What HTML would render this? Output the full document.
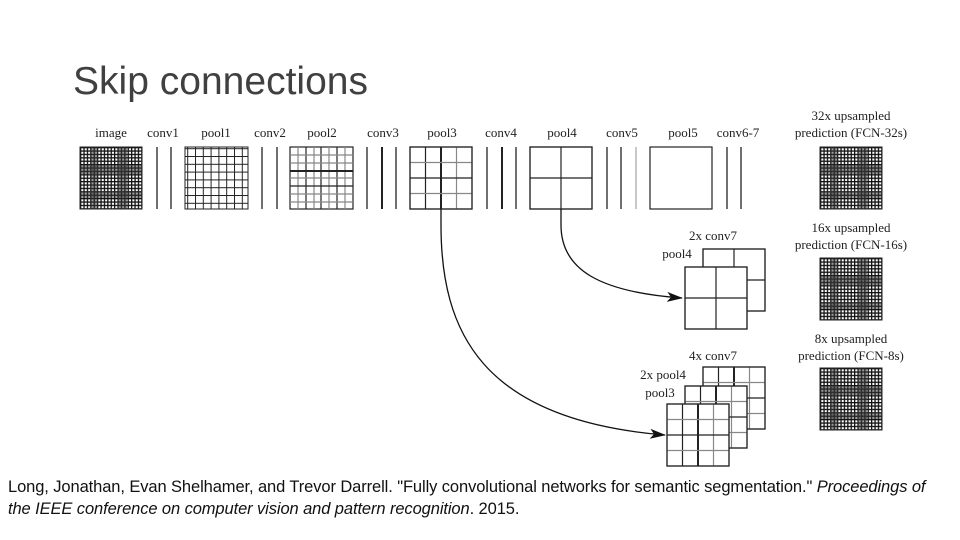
<!DOCTYPE html>
<html><head><meta charset="utf-8"><style>
body{margin:0;width:960px;height:540px;background:#fff;overflow:hidden;font-family:"Liberation Sans",sans-serif}
svg{position:absolute;left:0;top:0}
.t{font-family:"Liberation Serif",serif;font-size:13px;fill:#222;text-anchor:middle}
</style></head><body>
<svg width="960" height="540" viewBox="0 0 960 540">
<defs>
<pattern id="dense" width="3.4" height="3.4" patternUnits="userSpaceOnUse">
<rect width="3.4" height="3.4" fill="#fff"/>
<rect x="0" y="0" width="1.3" height="3.4" fill="#111"/>
<rect x="0" y="0" width="3.4" height="1.3" fill="#111"/>
</pattern>
<pattern id="med" width="7.8" height="7.8" patternUnits="userSpaceOnUse">
<rect width="7.8" height="7.8" fill="#fff"/>
<rect x="0" y="0" width="1" height="7.8" fill="#222"/>
<rect x="0" y="0" width="7.8" height="1" fill="#222"/>
</pattern>
<marker id="ah" markerWidth="16" markerHeight="10" refX="15" refY="5" orient="auto" markerUnits="userSpaceOnUse">
<path d="M0,0 L16,5 L0,10 L4,5 z" fill="#111"/>
</marker>
<g id="densebox">
<rect width="62" height="62" fill="url(#dense)"/>
<rect x="10" y="0" width="8" height="62" fill="#333" opacity=".5"/>
<rect x="38" y="0" width="9" height="62" fill="#333" opacity=".5"/>
<rect x="0" y="18" width="62" height="9" fill="#333" opacity=".5"/>
<rect x="0" y="44" width="62" height="7" fill="#333" opacity=".45"/>
<rect width="62" height="62" fill="none" stroke="#222" stroke-width="1"/>
</g>
<g id="grid4" stroke="#222" fill="none" stroke-width="1.2">
<rect width="62" height="62" fill="#fff"/>
<line x1="15.5" y1="0" x2="15.5" y2="62"/><line x1="31" y1="0" x2="31" y2="62" stroke-width="2"/><line x1="46.5" y1="0" x2="46.5" y2="62" stroke="#888"/>
<line x1="0" y1="15.5" x2="62" y2="15.5" stroke="#888"/><line x1="0" y1="31" x2="62" y2="31"/><line x1="0" y1="46.5" x2="62" y2="46.5" stroke="#888"/>
<rect width="62" height="62"/>
</g>
<g id="grid2" stroke="#222" fill="none" stroke-width="1.2">
<rect width="62" height="62" fill="#fff"/>
<line x1="31" y1="0" x2="31" y2="62"/><line x1="0" y1="31" x2="62" y2="31"/>
<rect width="62" height="62"/>
</g>
</defs>

<text x="73" y="94" font-size="39" fill="#404040" textLength="295" lengthAdjust="spacingAndGlyphs" style="font-family:'Liberation Sans',sans-serif;font-weight:300">Skip connections</text>

<g class="t">
<text x="111" y="137">image</text><text x="163" y="137">conv1</text><text x="216" y="137">pool1</text>
<text x="270" y="137">conv2</text><text x="322" y="137">pool2</text><text x="383" y="137">conv3</text>
<text x="442" y="137">pool3</text><text x="501" y="137">conv4</text><text x="562" y="137">pool4</text>
<text x="622" y="137">conv5</text><text x="683" y="137">pool5</text><text x="738" y="137">conv6-7</text>
<text x="851" y="120">32x upsampled</text><text x="851" y="137">prediction (FCN-32s)</text>
<text x="851" y="232">16x upsampled</text><text x="851" y="249">prediction (FCN-16s)</text>
<text x="851" y="343">8x upsampled</text><text x="851" y="360">prediction (FCN-8s)</text>
<text x="713" y="240">2x conv7</text><text x="677" y="258">pool4</text>
<text x="713" y="360">4x conv7</text><text x="663" y="379">2x pool4</text><text x="660" y="397">pool3</text>
</g>

<use href="#densebox" x="80" y="147"/>
<g stroke="#222" stroke-width="1.3">
<line x1="157" y1="147" x2="157" y2="209"/><line x1="171" y1="147" x2="171" y2="209"/>
<line x1="262" y1="147" x2="262" y2="209"/><line x1="277" y1="147" x2="277" y2="209"/>
<line x1="367" y1="147" x2="367" y2="209"/><line x1="382" y1="147" x2="382" y2="209" stroke-width="2"/><line x1="396" y1="147" x2="396" y2="209"/>
<line x1="487" y1="147" x2="487" y2="209"/><line x1="502" y1="147" x2="502" y2="209" stroke-width="2"/><line x1="516" y1="147" x2="516" y2="209"/>
<line x1="607" y1="147" x2="607" y2="209"/><line x1="621" y1="147" x2="621" y2="209"/><line x1="636" y1="147" x2="636" y2="209" stroke="#aaa"/>
<line x1="727" y1="147" x2="727" y2="209"/><line x1="741" y1="147" x2="741" y2="209"/>
</g>
<rect x="185" y="147" width="63" height="62" fill="url(#med)" stroke="#222"/>
<g transform="translate(290,147)" stroke="#222" fill="none" stroke-width="1.2">
<rect width="63" height="62"/>
<line x1="16" y1="0" x2="16" y2="62"/><line x1="24" y1="0" x2="24" y2="62" stroke="#888"/><line x1="31" y1="0" x2="31" y2="62"/><line x1="39" y1="0" x2="39" y2="62" stroke="#888"/><line x1="47" y1="0" x2="47" y2="62"/><line x1="8" y1="0" x2="8" y2="62" stroke="#888"/><line x1="55" y1="0" x2="55" y2="62" stroke="#888"/>
<line x1="0" y1="8" x2="63" y2="8" stroke="#888"/><line x1="0" y1="16" x2="63" y2="16" stroke="#888"/><line x1="0" y1="24" x2="63" y2="24" stroke-width="2"/><line x1="0" y1="31" x2="63" y2="31" stroke="#888"/><line x1="0" y1="39" x2="63" y2="39"/><line x1="0" y1="47" x2="63" y2="47" stroke="#888"/><line x1="0" y1="55" x2="63" y2="55" stroke="#888"/>
</g>
<use href="#grid4" x="410" y="147"/>
<use href="#grid2" x="530" y="147"/>
<rect x="650" y="147" width="62" height="62" fill="#fff" stroke="#222" stroke-width="1.2"/>
<use href="#densebox" x="820" y="147"/>
<use href="#densebox" x="820" y="258"/>
<use href="#densebox" x="820" y="368"/>

<use href="#grid2" x="703" y="249"/>
<use href="#grid2" x="685" y="267"/>
<use href="#grid4" x="703" y="367"/>
<use href="#grid4" x="685" y="386"/>
<use href="#grid4" x="667" y="404"/>

<g fill="none" stroke="#111" stroke-width="1.3">
<path d="M561,209 L561,225 C561,270 600,292 682,298" marker-end="url(#ah)"/>
<path d="M441,209 L441,225 C441,330 480,420 665,435" marker-end="url(#ah)"/>
</g>
</svg>
<div style="position:absolute;left:8px;top:476px;font-size:16.5px;line-height:22px;color:#111;font-family:'Liberation Sans',sans-serif;letter-spacing:-0.1px">Long, Jonathan, Evan Shelhamer, and Trevor Darrell. "Fully convolutional networks for semantic segmentation." <i>Proceedings of<br>the IEEE conference on computer vision and pattern recognition</i>. 2015.</div>
</body></html>
